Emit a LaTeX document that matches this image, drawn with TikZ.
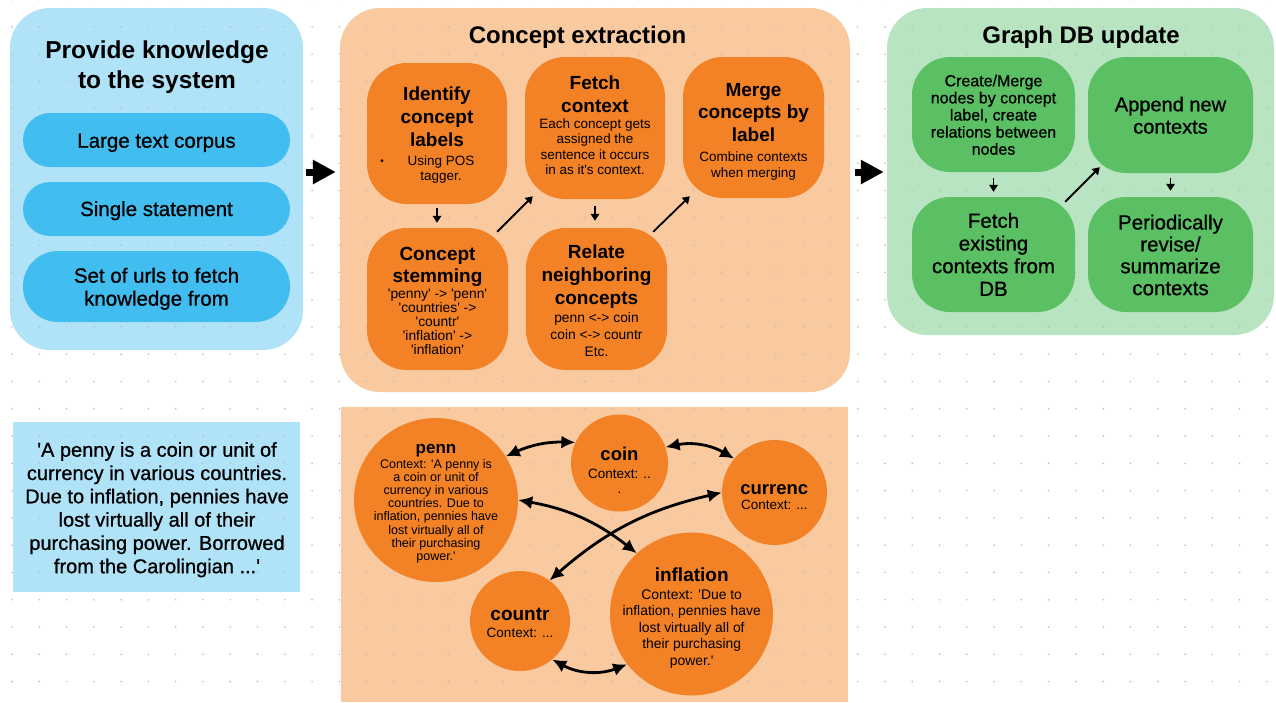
\documentclass[tikz,border=0pt]{standalone}
\usepackage{fontspec}
\setmainfont{Liberation Sans}
\newfontfamily\medfont{Liberation Sans}[FakeBold=0.8]
\usetikzlibrary{arrows.meta}
\definecolor{bluebg}{RGB}{176,226,248}
\definecolor{bluepill}{RGB}{66,189,240}
\definecolor{orangebg}{RGB}{249,201,160}
\definecolor{orangenode}{RGB}{242,130,37}
\definecolor{greenbg}{RGB}{185,228,193}
\definecolor{greennode}{RGB}{91,191,99}
\definecolor{dotc}{RGB}{190,190,190}
\newcommand\sq{\textquotesingle}
\newcommand\myB[2]{\bfseries\fontsize{#1}{#2}\selectfont}
\newcommand\myM[2]{\medfont\fontsize{#1}{#2}\selectfont}
\newcommand\myR[2]{\fontsize{#1}{#2}\selectfont}
\begin{document}
\begin{tikzpicture}[x=1pt,y=-1pt,
  cont/.style={rectangle, inner sep=0pt, draw=none, rounded corners=40pt},
  onode/.style={rectangle, inner sep=0pt, draw=none, fill=orangenode, rounded corners=40pt},
  gnode/.style={rectangle, inner sep=0pt, draw=none, fill=greennode, rounded corners=38pt},
  pill/.style={rectangle, inner sep=0pt, draw=none, fill=bluepill, minimum width=267pt},
  circ/.style={circle, inner sep=0pt, draw=none, fill=orangenode},
  txt/.style={inner sep=0pt, align=center, text=black},
  sarrow/.style={-{Triangle[length=7pt,width=8.5pt]}, line width=1.8pt},
  bigarrow/.style={-{Triangle[length=23pt,width=23pt]}, line width=7pt},
  carrow/.style={{Latex[length=14pt,width=13pt]}-{Latex[length=14pt,width=13pt]}, line width=2.8pt}
]
\useasboundingbox (0,0) rectangle (1276,702);
\fill[white] (0,0) rectangle (1276,702);

% containers
\node[cont, fill=bluebg, minimum width=293pt, minimum height=342pt] (blue) at (156.5,179) {};
\node[cont, fill=orangebg, minimum width=510pt, minimum height=384pt] (orange) at (595,200) {};
\node[cont, fill=greenbg, minimum width=387pt, minimum height=327pt] (green) at (1080.5,171.5) {};
\node[rectangle, inner sep=0pt, fill=bluebg, minimum width=287pt, minimum height=170pt] (qbox) at (156.5,507) {};
\node[rectangle, inner sep=0pt, fill=orangebg, minimum width=507pt, minimum height=295pt] (gbox) at (594.5,554.5) {};

% dot grid
\foreach \i in {0,...,46}{
  \foreach \j in {0,...,25}{
    \fill[dotc] ({12+27.28*\i},{-0.4+27.28*\j}) circle (0.9pt);
  }
}

% titles
\node[txt, anchor=north, font={\myB{24.5}{30}}] (provT) at (157,41) {Provide knowledge\\to the system};
\node[txt, anchor=base, font={\myB{24}{30}}] (concT) at (577.5,43.3) {Concept extraction};
\node[txt, anchor=base, font={\myB{24}{30}}] (graphT) at (1081,43.3) {Graph DB update};

% pills
\node[pill, minimum height=54pt, rounded corners=27pt] (p1) at (156.5,140) {};
\node[pill, minimum height=54pt, rounded corners=27pt] (p2) at (156.5,209) {};
\node[pill, minimum height=71pt, rounded corners=35pt] (p3) at (156.5,286.5) {};
\node[txt, anchor=base, font={\myM{20.5}{23}}] (p1T) at (156.5,147.7) {Large text corpus};
\node[txt, anchor=base, font={\myM{20.5}{23}}] (p2T) at (156.5,216) {Single statement};
\node[txt, anchor=north, font={\myM{20.5}{23}}] (p3T) at (156.5,267.6) {Set of urls to fetch\\knowledge from};

% concept extraction nodes
\node[onode, minimum width=140pt, minimum height=141pt] (ident) at (437,133.5) {};
\node[onode, minimum width=140pt, minimum height=142pt] (fetch) at (595,128) {};
\node[onode, minimum width=141pt, minimum height=141pt] (merge) at (753.5,127.5) {};
\node[onode, minimum width=141pt, minimum height=142pt] (stem) at (437.5,299) {};
\node[onode, minimum width=141pt, minimum height=142pt] (rel) at (596.5,299) {};

\node[txt, anchor=north, font={\myB{19}{23}}] (identT) at (437,87) {Identify\\concept\\labels};
\node[txt, font={\myR{10}{10}}] (identBul) at (382,162) {\textbullet};
\node[txt, anchor=north, font={\myR{13.5}{15.5}}] (identB) at (441,155.3) {Using POS\\tagger.};

\node[txt, anchor=north, font={\myB{19}{22.5}}] (fetchT) at (595,75.6) {Fetch\\context};
\node[txt, anchor=north, font={\myR{13.5}{15.3}}] (fetchB) at (595,118.6) {Each concept gets\\assigned the\\sentence it occurs\\in as it\sq s context.};

\node[txt, anchor=north, font={\myB{19}{22.5}}] (mergeT) at (753.5,83) {Merge\\concepts by\\label};
\node[txt, anchor=north, font={\myR{13.5}{16}}] (mergeB) at (753.5,151.3) {Combine contexts\\when merging};

\node[txt, anchor=north, font={\myB{19}{22.6}}] (stemT) at (437.5,246.7) {Concept\\stemming};
\node[txt, anchor=north, font={\myR{13.8}{14.2}}] (stemB) at (437.5,288.3) {\sq penny\sq{} -> \sq penn\sq\\\sq countries\sq{} ->\\\sq countr\sq\\\sq inflation\sq{} ->\\\sq inflation\sq};

\node[txt, anchor=north, font={\myB{19}{23}}] (relT) at (596.5,245) {Relate\\neighboring\\concepts};
\node[txt, anchor=north, font={\myR{13.8}{16.8}}] (relB) at (596.5,312.3) {penn <-> coin\\coin <-> countr\\Etc.};

% graph db nodes
\node[gnode, minimum width=163pt, minimum height=115pt] (create) at (993.5,114.5) {};
\node[gnode, minimum width=165pt, minimum height=116pt] (append) at (1170.5,115) {};
\node[gnode, minimum width=163pt, minimum height=115pt] (fetchdb) at (993.5,254.5) {};
\node[gnode, minimum width=165pt, minimum height=115pt] (period) at (1170.5,254.5) {};

\node[txt, anchor=north, font={\myM{16}{17.1}}] (createT) at (993.5,74.5) {Create/Merge\\nodes by concept\\label, create\\relations between\\nodes};
\node[txt, anchor=north, font={\myM{20}{22.3}}] (appendT) at (1170.5,96.6) {Append new\\contexts};
\node[txt, anchor=north, font={\myM{20.5}{22.7}}] (fetchdbT) at (993.5,212.7) {Fetch\\existing\\contexts from\\DB};
\node[txt, anchor=north, font={\myM{20.5}{21.9}}] (periodT) at (1170.5,214.4) {Periodically\\revise/\\summarize\\contexts};

% quote box text
\node[txt, anchor=north, font={\myM{20}{23.3}}] (quoteT) at (157,442) {\sq A penny is a coin or unit of\\currency in various countries.\\Due to inflation, pennies have\\lost virtually all of their\\purchasing power. Borrowed\\from the Carolingian ...\sq};

% circles
\node[circ, minimum size=164pt] (penn) at (436,500) {};
\node[circ, minimum size=97pt] (coin) at (619.5,463) {};
\node[circ, minimum size=105pt] (currenc) at (774.5,492.5) {};
\node[circ, minimum size=100pt] (countr) at (520,621) {};
\node[circ, minimum size=163pt] (infl) at (691.5,614) {};

\node[txt, anchor=base, font={\myB{17}{20}}] (pennT) at (436,453.3) {penn};
\node[txt, anchor=north, font={\myR{12.5}{13.1}}] (pennB) at (436,459.3) {Context: \sq A penny is\\a coin or unit of\\currency in various\\countries. Due to\\inflation, pennies have\\lost virtually all of\\their purchasing\\power.\sq};
\node[txt, anchor=base, font={\myB{18.5}{20}}] (coinT) at (619.5,460) {coin};
\node[txt, anchor=north, font={\myR{13.5}{15.7}}] (coinB) at (619.5,468.6) {Context: ..\\.};
\node[txt, anchor=base, font={\myB{18.5}{20}}] (currT) at (774.3,494.3) {currenc};
\node[txt, anchor=base, font={\myR{13.5}{16}}] (currB) at (774.3,509) {Context: ...};
\node[txt, anchor=base, font={\myB{19}{20}}] (countrT) at (520,620) {countr};
\node[txt, anchor=base, font={\myR{13.5}{16}}] (countrB) at (520,637.3) {Context: ...};
\node[txt, anchor=base, font={\myB{19}{20}}] (inflT) at (691.7,581.7) {inflation};
\node[txt, anchor=north, font={\myR{13.9}{16.5}}] (inflB) at (691.7,589.3) {Context: \sq Due to\\inflation, pennies have\\lost virtually all of\\their purchasing\\power.\sq};

% big arrows
\coordinate (arrowy) at (0,172);
\draw[bigarrow, shorten <=3pt, shorten >=4pt] (blue.east |- arrowy) -- (orange.west |- arrowy);
\draw[bigarrow, shorten <=5pt, shorten >=3pt] (orange.east |- arrowy) -- (green.west |- arrowy);

% small arrows
\draw[sarrow, shorten <=4pt, shorten >=5pt] (ident.south) -- (ident.south |- stem.north);
\draw[sarrow, shorten <=7pt, shorten >=7pt] (fetch.south) -- (fetch.south |- rel.north);
\draw[sarrow] ([xshift=-11pt,yshift=-4pt]stem.north east) -- ([xshift=8pt,yshift=3pt]fetch.south west);
\draw[sarrow] ([xshift=-14pt,yshift=-4pt]rel.north east) -- ([xshift=7pt,yshift=2pt]merge.south west);
\draw[sarrow, shorten <=6pt, shorten >=5pt] (create.south) -- (create.south |- fetchdb.north);
\draw[sarrow] ([xshift=-10pt,yshift=-5pt]fetchdb.north east) -- ([xshift=12pt,yshift=6pt]append.south west);
\draw[sarrow, shorten <=5pt, shorten >=6pt] (append.south) -- (append.south |- period.north);

% circle arrows
\draw[carrow] (penn.32) to[bend left=13] (coin.155);
\draw[carrow] (coin.19) to[bend left=21] (currenc.140);
\draw[carrow] (penn.0) to[bend left=14] (infl.132);
\draw[carrow] (currenc.180) to[bend right=14] (countr.54);
\draw[carrow] (countr.-50) to[bend right=25] (infl.218);
\end{tikzpicture}
\end{document}
